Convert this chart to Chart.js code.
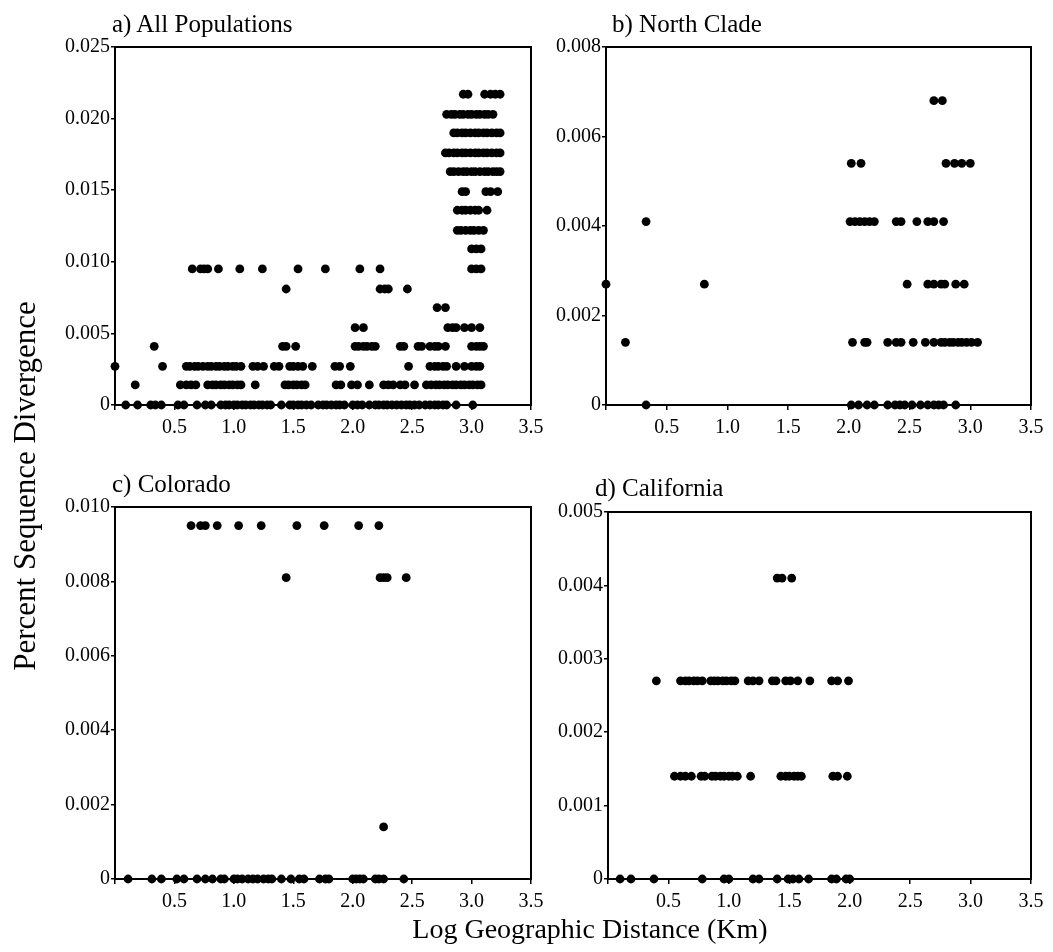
<!DOCTYPE html>
<html>
<head>
<meta charset="utf-8">
<script src="https://cdn.jsdelivr.net/npm/chart.js@4.4.0/dist/chart.umd.min.js"></script>
<style>
  body { margin: 0; background: #fff; width: 1053px; height: 952px; position: relative; overflow: hidden;
         font-family: "Liberation Serif", "DejaVu Serif", serif; color: #000; }
  canvas { position: absolute; }
  .ttl { position: absolute; font-size: 25px; line-height: 25px; white-space: nowrap; }
  #ylab { position: absolute; left: -185px; top: 471px; width: 420px; height: 30px; line-height: 30px;
          font-size: 31px; text-align: center; transform: rotate(-90deg); white-space: nowrap; }
  #xlab { position: absolute; left: 290px; top: 914px; width: 600px; line-height: 30px;
          font-size: 28px; text-align: center; white-space: nowrap; }
</style>
</head>
<body>
<canvas id="chartA"></canvas>
<canvas id="chartB"></canvas>
<canvas id="chartC"></canvas>
<canvas id="chartD"></canvas>
<div class="ttl" style="left:112px; top:11px;">a) All Populations</div>
<div class="ttl" style="left:612px; top:11px;">b) North Clade</div>
<div class="ttl" style="left:112px; top:471px;">c) Colorado</div>
<div class="ttl" style="left:595px; top:475px;">d) California</div>
<div id="ylab">Percent Sequence Divergence</div>
<div id="xlab">Log Geographic Distance (Km)</div>
<script>
// a) All Populations - livelli di divergenza e distanze (log km) per ogni livello
const aLevels = [0.0217, 0.0203, 0.0190, 0.0176, 0.0163, 0.0149, 0.0136, 0.0122, 0.0109, 0.0095,
                 0.0081, 0.0068, 0.0054, 0.0041, 0.0027, 0.0014, 0];
const aDist = [
    [2.93, 2.97, 3.11, 3.16, 3.20, 3.24],
    [2.79, 2.83, 2.86, 2.90, 2.93, 2.97, 3.00, 3.04, 3.07, 3.11, 3.14, 3.18],
    [2.85, 2.88, 2.92, 2.95, 2.99, 3.03, 3.06, 3.10, 3.13, 3.17, 3.21, 3.24],
    [2.78, 2.81, 2.85, 2.88, 2.92, 2.95, 2.99, 3.03, 3.06, 3.10, 3.13, 3.17, 3.21, 3.24],
    [2.82, 2.85, 2.89, 2.93, 2.96, 3.00, 3.03, 3.07, 3.11, 3.14, 3.18, 3.21, 3.24],
    [2.92, 2.95, 3.12, 3.16, 3.22],
    [2.88, 2.92, 2.95, 2.99, 3.03, 3.06, 3.13],
    [2.88, 2.91, 2.95, 2.99, 3.02, 3.06, 3.10],
    [3.00, 3.04, 3.08],
    [0.65, 0.72, 0.75, 0.78, 0.87, 1.05, 1.24, 1.54, 1.77, 2.06, 2.23, 3.00, 3.04, 3.08],
    [1.44, 2.23, 2.27, 2.30, 2.46],
    [2.71, 2.78],
    [2.02, 2.09, 2.80, 2.84, 2.87, 2.94, 3.00, 3.07],
    [0.33, 1.41, 1.44, 1.52, 2.02, 2.05, 2.09, 2.12, 2.16, 2.19, 2.40, 2.43, 2.55, 2.58, 2.65, 2.69,
     2.72, 2.78, 3.00, 3.04, 3.07, 3.10],
    [0.00, 0.40, 0.60, 0.63, 0.67, 0.70, 0.74, 0.78, 0.81, 0.85, 0.88, 0.92, 0.95, 0.99, 1.02, 1.06,
     1.16, 1.20, 1.25, 1.34, 1.38, 1.47, 1.50, 1.54, 1.58, 1.66, 1.85, 1.89, 1.98, 2.47, 2.65, 2.69,
     2.72, 2.76, 2.79, 2.87, 2.94, 3.00, 3.04, 3.07],
    [0.17, 0.55, 0.60, 0.64, 0.68, 0.78, 0.82, 0.85, 0.89, 0.92, 0.96, 0.99, 1.03, 1.06, 1.18, 1.43,
     1.46, 1.50, 1.53, 1.57, 1.60, 1.86, 1.90, 1.99, 2.04, 2.14, 2.26, 2.30, 2.34, 2.40, 2.44, 2.52,
     2.62, 2.66, 2.70, 2.73, 2.77, 2.80, 2.84, 2.87, 2.91, 2.94, 2.98, 3.01, 3.05, 3.08],
    [0.09, 0.19, 0.30, 0.34, 0.39, 0.53, 0.58, 0.69, 0.76, 0.81, 0.89, 0.93, 0.96, 1.00, 1.03, 1.07,
     1.10, 1.14, 1.17, 1.21, 1.24, 1.28, 1.31, 1.40, 1.47, 1.50, 1.54, 1.57, 1.61, 1.65, 1.71, 1.75,
     1.78, 1.82, 1.86, 1.89, 1.93, 2.00, 2.04, 2.08, 2.14, 2.19, 2.22, 2.26, 2.29, 2.33, 2.37, 2.41,
     2.45, 2.48, 2.52, 2.56, 2.61, 2.65, 2.69, 2.72, 2.76, 2.79, 2.87, 3.01]
];

// b) North Clade
const bLevels = [0.0068, 0.0054, 0.0041, 0.0027, 0.0014, 0];
const bDist = [
    [2.70, 2.77],
    [2.02, 2.10, 2.80, 2.87, 2.93, 3.00],
    [0.33, 2.01, 2.05, 2.09, 2.13, 2.17, 2.21, 2.39, 2.43, 2.56, 2.65, 2.70, 2.78],
    [0.00, 0.81, 2.48, 2.65, 2.70, 2.76, 2.79, 2.88, 2.95],
    [0.16, 2.03, 2.13, 2.15, 2.32, 2.39, 2.43, 2.53, 2.63, 2.70, 2.76, 2.79, 2.83, 2.86, 2.90, 2.93,
     2.97, 3.01, 3.06],
    [0.33, 2.02, 2.08, 2.15, 2.21, 2.32, 2.38, 2.42, 2.46, 2.52, 2.59, 2.65, 2.70, 2.74, 2.78, 2.88]
];

// c) Colorado
const cLevels = [0.0095, 0.0081, 0.0014, 0];
const cDist = [
    [0.64, 0.72, 0.76, 0.86, 1.04, 1.23, 1.53, 1.76, 2.05, 2.22],
    [1.44, 2.23, 2.26, 2.29, 2.45],
    [2.26],
    [0.11, 0.31, 0.39, 0.52, 0.58, 0.69, 0.76, 0.82, 0.89, 0.92, 1.00, 1.03, 1.07, 1.12, 1.16, 1.20,
     1.25, 1.29, 1.32, 1.40, 1.48, 1.55, 1.59, 1.72, 1.77, 1.80, 2.00, 2.03, 2.06, 2.09, 2.19, 2.22,
     2.26, 2.43]
];

// d) California
const dLevels = [0.0041, 0.0027, 0.0014, 0];
const dDist = [
    [1.40, 1.44, 1.52],
    [0.40, 0.60, 0.64, 0.67, 0.71, 0.74, 0.78, 0.85, 0.88, 0.91, 0.95, 0.98, 1.02, 1.05, 1.16, 1.20,
     1.25, 1.36, 1.39, 1.47, 1.51, 1.57, 1.67, 1.85, 1.90, 1.99],
    [0.55, 0.60, 0.64, 0.69, 0.77, 0.80, 0.86, 0.89, 0.93, 0.96, 1.00, 1.03, 1.07, 1.18, 1.43, 1.47,
     1.50, 1.54, 1.57, 1.60, 1.86, 1.90, 1.98],
    [0.10, 0.19, 0.38, 0.78, 0.96, 1.00, 1.20, 1.25, 1.40, 1.49, 1.53, 1.58, 1.66, 1.85, 1.89, 1.97, 2.00]
];

// scale asse x e asse y di ogni pannello
const xMax = 3.5, xStep = 0.5;
const yMaxes = { a: 0.025, b: 0.008, c: 0.010, d: 0.005 };
const ySteps = { a: 0.005, b: 0.002, c: 0.002, d: 0.001 };

// Disegna la cornice completa attorno all'area del grafico
const framePlugin = {
    id: "frame",
    afterDraw(chart) {
        const { ctx, chartArea: a } = chart;
        ctx.save();
        ctx.strokeStyle = "#000";
        ctx.lineWidth = 2;
        ctx.strokeRect(a.left, a.top, a.right - a.left, a.bottom - a.top);
        ctx.restore();
    }
};

function toPoints(levels, dist) {
    const pts = [];
    levels.forEach((lv, i) => {
        dist[i].forEach(x => pts.push({ x: x, y: lv }));
    });
    return pts;
}

// geom: posizione del canvas e dell'area del grafico (pixel di pagina)
function makePanel(id, levels, dist, yMax, yStep, yDec, geom) {
    const canvas = document.getElementById(id);
    canvas.width = geom.w;
    canvas.height = geom.h;
    canvas.style.left = geom.left + "px";
    canvas.style.top = geom.top + "px";

    const tickFont = { family: "'Liberation Serif', serif", size: 20 };

    new Chart(canvas, {
        type: "scatter",
        data: {
            datasets: [{
                data: toPoints(levels, dist),
                backgroundColor: "#000",
                borderWidth: 0,
                pointRadius: 4.4,
                pointHoverRadius: 4.4,
                clip: false
            }]
        },
        options: {
            responsive: false,
            animation: false,
            devicePixelRatio: 1,
            layout: {
                padding: {
                    top: geom.t - geom.top,
                    right: geom.left + geom.w - geom.r,
                    bottom: 0,
                    left: 0
                }
            },
            plugins: { legend: { display: false }, tooltip: { enabled: false } },
            scales: {
                x: {
                    type: "linear",
                    min: 0,
                    max: xMax,
                    afterFit(scale) { scale.height = geom.top + geom.h - geom.b; },
                    border: { display: true, color: "#000", width: 2 },
                    grid: { display: true, drawOnChartArea: false, drawTicks: true, tickLength: 5, color: "#000", lineWidth: 1.5 },
                    ticks: {
                        stepSize: xStep,
                        color: "#000",
                        font: tickFont,
                        padding: 6,
                        maxRotation: 0,
                        callback: v => (Math.abs(v) < 1e-9 ? "" : Number(v).toFixed(1))
                    }
                },
                y: {
                    type: "linear",
                    min: 0,
                    max: yMax,
                    afterFit(scale) { scale.width = geom.l - geom.left; },
                    border: { display: true, color: "#000", width: 2 },
                    grid: { display: true, drawOnChartArea: false, drawTicks: true, tickLength: 4, color: "#000", lineWidth: 1.5 },
                    ticks: {
                        stepSize: yStep,
                        color: "#000",
                        font: tickFont,
                        padding: 1,
                        callback: v => (Math.abs(v) < 1e-12 ? "0" : Number(v).toFixed(yDec))
                    }
                }
            }
        },
        plugins: [framePlugin]
    });
}

makePanel("chartA", aLevels, aDist, yMaxes.a, ySteps.a, 3,
    { left: 0, top: 0, w: 554, h: 450, l: 115, t: 47, r: 531, b: 405 });
makePanel("chartB", bLevels, bDist, yMaxes.b, ySteps.b, 3,
    { left: 545, top: 0, w: 508, h: 450, l: 606, t: 47, r: 1031, b: 405 });
makePanel("chartC", cLevels, cDist, yMaxes.c, ySteps.c, 3,
    { left: 0, top: 460, w: 554, h: 462, l: 115, t: 507, r: 531, b: 879 });
makePanel("chartD", dLevels, dDist, yMaxes.d, ySteps.d, 3,
    { left: 545, top: 460, w: 508, h: 462, l: 608, t: 512, r: 1031, b: 879 });
</script>
</body>
</html>
